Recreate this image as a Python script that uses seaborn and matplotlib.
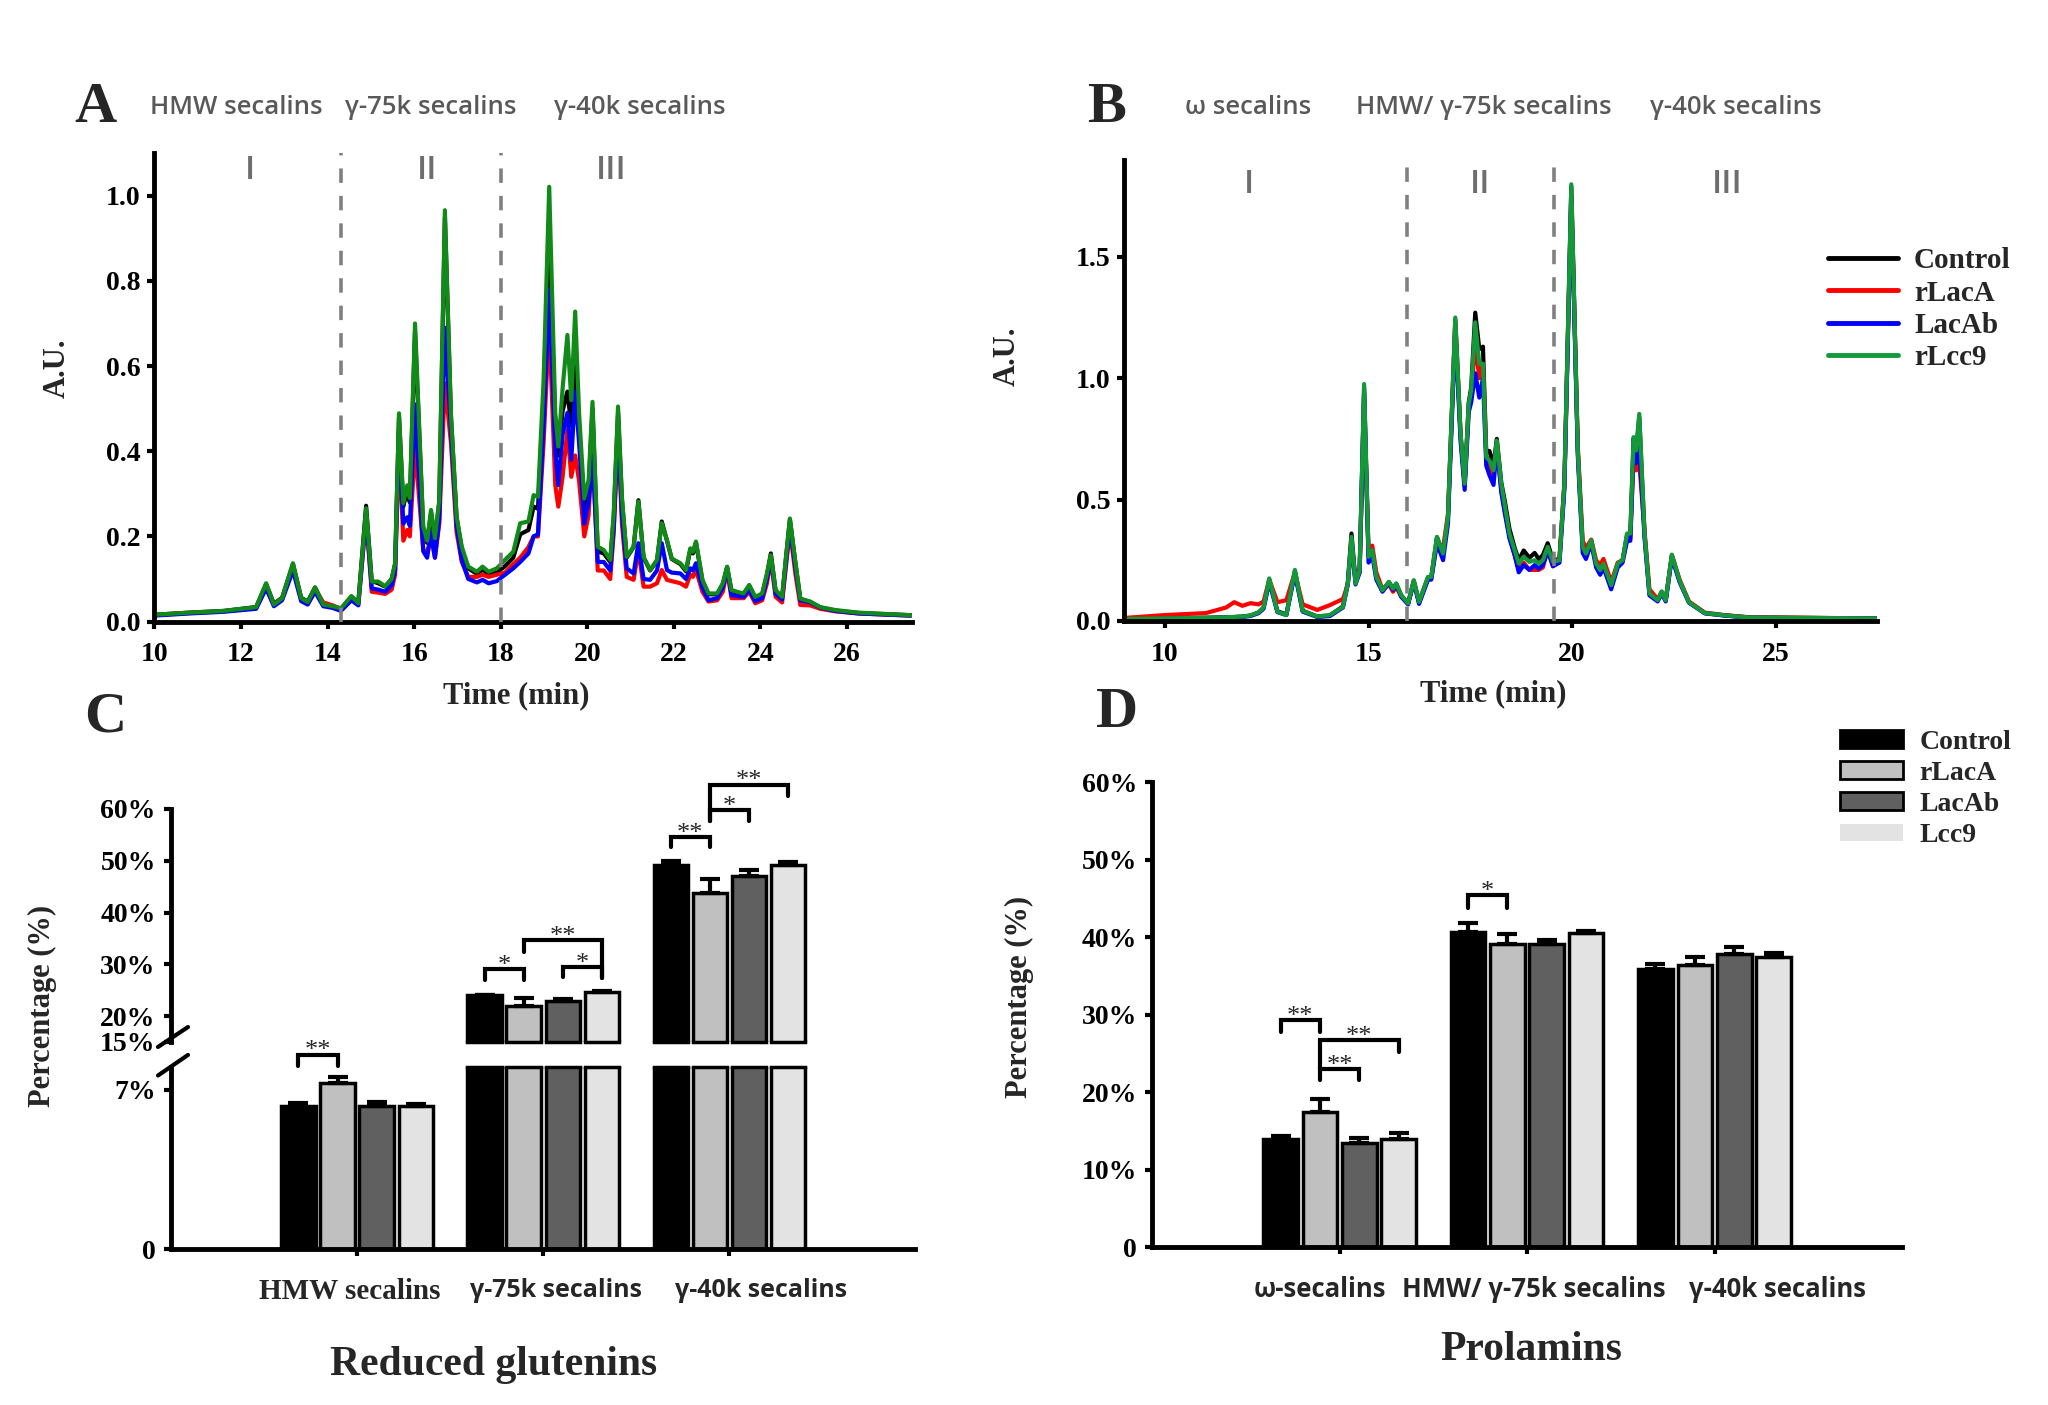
import numpy as np
import pandas as pd
import matplotlib
matplotlib.use("Agg")
import matplotlib.pyplot as plt
import seaborn as sns
from matplotlib.lines import Line2D
from matplotlib.patches import Patch
from matplotlib.container import BarContainer
from matplotlib.ticker import FormatStrFormatter

# ---------------- data ----------------
SAMPLES_LINE = ["Control", "rLacA", "LacAb", "rLcc9"]

A_TIME = [10.0, 10.8, 11.6, 12.35, 12.58, 12.76, 12.95, 13.2, 13.39, 13.54,
          13.71, 13.9, 14.12, 14.31, 14.55, 14.71, 14.89, 15.02, 15.17, 15.33,
          15.48, 15.56, 15.65, 15.75, 15.84, 15.9, 16.02, 16.21, 16.3, 16.39,
          16.48, 16.58, 16.71, 16.85, 16.98, 17.1, 17.25, 17.45, 17.58, 17.72,
          17.91, 18.1, 18.29, 18.45, 18.64, 18.76, 18.86, 18.99, 19.12, 19.26,
          19.33, 19.43, 19.54, 19.63, 19.72, 19.81, 19.93, 20.03, 20.12, 20.24,
          20.38, 20.53, 20.61, 20.71, 20.8, 20.91, 21.07, 21.18, 21.3, 21.45,
          21.61, 21.72, 21.84, 21.95, 22.15, 22.28, 22.38, 22.44, 22.51, 22.66,
          22.8, 23.0, 23.13, 23.23, 23.33, 23.46, 23.61, 23.74, 23.88, 24.04,
          24.15, 24.24, 24.35, 24.5, 24.59, 24.68, 24.81, 24.92, 25.15, 25.38,
          25.73, 26.27, 27.47]
A_CONTROL = [0.016, 0.021, 0.025, 0.034, 0.088, 0.042, 0.056, 0.135, 0.056, 0.047,
             0.080, 0.042, 0.036, 0.030, 0.058, 0.045, 0.272, 0.095, 0.090, 0.082,
             0.100, 0.135, 0.480, 0.270, 0.310, 0.280, 0.680, 0.215, 0.185, 0.255,
             0.190, 0.280, 0.950, 0.480, 0.245, 0.170, 0.125, 0.112, 0.122, 0.112,
             0.115, 0.130, 0.150, 0.205, 0.215, 0.270, 0.265, 0.520, 0.900, 0.460,
             0.390, 0.495, 0.540, 0.460, 0.600, 0.460, 0.260, 0.310, 0.500, 0.165,
             0.160, 0.140, 0.245, 0.490, 0.285, 0.150, 0.175, 0.285, 0.150, 0.120,
             0.143, 0.235, 0.190, 0.147, 0.135, 0.118, 0.170, 0.160, 0.185, 0.095,
             0.064, 0.064, 0.088, 0.128, 0.072, 0.068, 0.064, 0.084, 0.056, 0.064,
             0.110, 0.160, 0.072, 0.056, 0.150, 0.240, 0.135, 0.053, 0.046, 0.033,
             0.026, 0.020, 0.015]
A_RLACA = [0.015, 0.020, 0.024, 0.032, 0.080, 0.040, 0.054, 0.125, 0.052, 0.045,
           0.075, 0.045, 0.038, 0.030, 0.052, 0.040, 0.245, 0.070, 0.068, 0.065,
           0.075, 0.110, 0.420, 0.190, 0.215, 0.200, 0.410, 0.170, 0.160, 0.200,
           0.150, 0.230, 0.560, 0.420, 0.210, 0.140, 0.105, 0.105, 0.110, 0.105,
           0.110, 0.115, 0.135, 0.150, 0.175, 0.200, 0.200, 0.420, 0.700, 0.320,
           0.270, 0.340, 0.450, 0.340, 0.390, 0.330, 0.200, 0.250, 0.420, 0.120,
           0.120, 0.100, 0.210, 0.440, 0.230, 0.105, 0.098, 0.168, 0.082, 0.082,
           0.090, 0.121, 0.098, 0.095, 0.090, 0.082, 0.110, 0.105, 0.121, 0.070,
           0.047, 0.050, 0.070, 0.121, 0.055, 0.055, 0.055, 0.070, 0.043, 0.050,
           0.090, 0.145, 0.058, 0.045, 0.130, 0.215, 0.110, 0.039, 0.038, 0.030,
           0.024, 0.019, 0.014]
A_LACAB = [0.014, 0.019, 0.023, 0.030, 0.078, 0.036, 0.050, 0.120, 0.048, 0.040,
           0.070, 0.036, 0.032, 0.025, 0.050, 0.038, 0.250, 0.078, 0.075, 0.070,
           0.085, 0.120, 0.450, 0.230, 0.245, 0.225, 0.510, 0.165, 0.150, 0.210,
           0.150, 0.240, 0.690, 0.450, 0.225, 0.145, 0.100, 0.092, 0.098, 0.090,
           0.095, 0.110, 0.125, 0.140, 0.160, 0.200, 0.205, 0.460, 0.780, 0.400,
           0.320, 0.440, 0.490, 0.380, 0.540, 0.420, 0.230, 0.280, 0.390, 0.140,
           0.140, 0.120, 0.220, 0.460, 0.250, 0.125, 0.113, 0.184, 0.100, 0.098,
           0.120, 0.184, 0.121, 0.115, 0.113, 0.100, 0.125, 0.120, 0.137, 0.080,
           0.050, 0.055, 0.080, 0.125, 0.062, 0.060, 0.058, 0.075, 0.048, 0.055,
           0.100, 0.150, 0.065, 0.052, 0.140, 0.225, 0.125, 0.050, 0.045, 0.033,
           0.025, 0.019, 0.014]
A_RLCC9 = [0.016, 0.021, 0.025, 0.034, 0.090, 0.040, 0.055, 0.137, 0.055, 0.046,
           0.080, 0.040, 0.036, 0.031, 0.060, 0.043, 0.266, 0.094, 0.094, 0.083,
           0.100, 0.137, 0.489, 0.278, 0.320, 0.290, 0.700, 0.223, 0.190, 0.262,
           0.196, 0.285, 0.966, 0.489, 0.246, 0.176, 0.129, 0.117, 0.129, 0.117,
           0.125, 0.145, 0.164, 0.231, 0.235, 0.297, 0.293, 0.567, 1.021, 0.489,
           0.411, 0.548, 0.673, 0.520, 0.728, 0.489, 0.289, 0.332, 0.516, 0.176,
           0.168, 0.145, 0.254, 0.505, 0.293, 0.152, 0.176, 0.282, 0.152, 0.121,
           0.145, 0.231, 0.191, 0.148, 0.137, 0.121, 0.172, 0.164, 0.188, 0.098,
           0.066, 0.066, 0.090, 0.129, 0.074, 0.070, 0.066, 0.086, 0.058, 0.066,
           0.113, 0.156, 0.074, 0.058, 0.152, 0.242, 0.137, 0.054, 0.047, 0.034,
           0.027, 0.021, 0.015]

B_TIME = [9.0, 10.0, 11.0, 11.5, 11.7, 11.9, 12.1, 12.3, 12.42, 12.56,
          12.76, 12.98, 13.19, 13.38, 13.74, 14.05, 14.37, 14.49, 14.58, 14.68,
          14.78, 14.89, 15.0, 15.09, 15.19, 15.34, 15.5, 15.6, 15.68, 15.8,
          15.97, 16.11, 16.24, 16.46, 16.54, 16.68, 16.83, 16.95, 17.13, 17.26,
          17.36, 17.46, 17.52, 17.62, 17.72, 17.81, 17.89, 17.97, 18.07, 18.15,
          18.26, 18.34, 18.46, 18.59, 18.69, 18.81, 18.95, 19.08, 19.18, 19.28,
          19.4, 19.53, 19.69, 19.81, 19.98, 20.14, 20.26, 20.34, 20.47, 20.59,
          20.69, 20.77, 20.96, 21.12, 21.24, 21.35, 21.43, 21.51, 21.57, 21.65,
          21.78, 21.9, 22.1, 22.2, 22.3, 22.45, 22.64, 22.87, 23.26, 23.73,
          24.35, 27.5]
B_CONTROL = [0.008, 0.010, 0.013, 0.015, 0.016, 0.018, 0.022, 0.035, 0.055, 0.170,
             0.040, 0.026, 0.205, 0.042, 0.018, 0.022, 0.060, 0.160, 0.360, 0.160,
             0.210, 0.960, 0.265, 0.290, 0.180, 0.125, 0.160, 0.132, 0.153, 0.105,
             0.072, 0.166, 0.078, 0.180, 0.180, 0.345, 0.275, 0.425, 1.240, 0.770,
             0.560, 0.900, 0.960, 1.270, 1.120, 1.130, 0.700, 0.700, 0.640, 0.750,
             0.570, 0.500, 0.380, 0.300, 0.250, 0.290, 0.260, 0.280, 0.255, 0.270,
             0.320, 0.250, 0.255, 0.560, 1.790, 0.700, 0.300, 0.270, 0.330, 0.235,
             0.205, 0.235, 0.145, 0.235, 0.250, 0.355, 0.355, 0.750, 0.690, 0.840,
             0.355, 0.112, 0.085, 0.120, 0.085, 0.270, 0.165, 0.077, 0.032, 0.023,
             0.014, 0.010]
B_RLACA = [0.012, 0.024, 0.032, 0.055, 0.077, 0.062, 0.073, 0.068, 0.080, 0.170,
           0.077, 0.085, 0.200, 0.068, 0.045, 0.065, 0.090, 0.150, 0.330, 0.160,
           0.200, 0.900, 0.270, 0.310, 0.200, 0.130, 0.150, 0.120, 0.140, 0.100,
           0.070, 0.160, 0.075, 0.175, 0.175, 0.330, 0.300, 0.440, 1.230, 0.760,
           0.560, 0.880, 0.920, 1.150, 1.000, 1.060, 0.680, 0.640, 0.600, 0.730,
           0.540, 0.460, 0.350, 0.270, 0.210, 0.240, 0.210, 0.210, 0.210, 0.220,
           0.290, 0.225, 0.260, 0.570, 1.760, 0.720, 0.330, 0.300, 0.335, 0.250,
           0.230, 0.255, 0.160, 0.240, 0.250, 0.340, 0.340, 0.680, 0.620, 0.650,
           0.370, 0.130, 0.090, 0.118, 0.090, 0.270, 0.170, 0.080, 0.034, 0.024,
           0.015, 0.010]
B_LACAB = [0.006, 0.008, 0.011, 0.013, 0.014, 0.016, 0.020, 0.032, 0.050, 0.160,
           0.036, 0.024, 0.195, 0.038, 0.016, 0.020, 0.055, 0.150, 0.330, 0.150,
           0.200, 0.940, 0.240, 0.270, 0.170, 0.120, 0.155, 0.128, 0.150, 0.100,
           0.068, 0.160, 0.070, 0.170, 0.170, 0.320, 0.250, 0.400, 1.200, 0.740,
           0.540, 0.860, 0.900, 1.020, 0.920, 1.000, 0.640, 0.600, 0.560, 0.720,
           0.530, 0.450, 0.340, 0.270, 0.200, 0.230, 0.210, 0.230, 0.215, 0.230,
           0.290, 0.225, 0.240, 0.540, 1.750, 0.680, 0.280, 0.255, 0.320, 0.220,
           0.190, 0.220, 0.130, 0.220, 0.240, 0.330, 0.330, 0.700, 0.650, 0.720,
           0.340, 0.105, 0.080, 0.112, 0.080, 0.260, 0.160, 0.075, 0.031, 0.022,
           0.013, 0.009]
B_RLCC9 = [0.008, 0.010, 0.013, 0.015, 0.016, 0.018, 0.022, 0.035, 0.055, 0.175,
           0.038, 0.024, 0.210, 0.041, 0.018, 0.024, 0.058, 0.154, 0.346, 0.154,
           0.209, 0.976, 0.264, 0.291, 0.181, 0.126, 0.161, 0.133, 0.154, 0.106,
           0.072, 0.167, 0.078, 0.181, 0.181, 0.346, 0.277, 0.428, 1.250, 0.771,
           0.565, 0.894, 0.949, 1.230, 1.059, 1.059, 0.675, 0.661, 0.620, 0.743,
           0.565, 0.483, 0.360, 0.291, 0.236, 0.264, 0.243, 0.250, 0.236, 0.250,
           0.305, 0.243, 0.250, 0.565, 1.799, 0.702, 0.305, 0.277, 0.332, 0.236,
           0.209, 0.236, 0.147, 0.236, 0.250, 0.360, 0.360, 0.757, 0.702, 0.853,
           0.360, 0.113, 0.085, 0.121, 0.085, 0.273, 0.166, 0.077, 0.032, 0.023,
           0.014, 0.010]

A_REGION_BOUNDS = [14.3, 18.0]
B_REGION_BOUNDS = [15.95, 19.55]
A_HEADERS = ["HMW secalins", "γ-75k secalins", "γ-40k secalins"]
B_HEADERS = ["ω secalins", "HMW/ γ-75k secalins", "γ-40k secalins"]
NUMERALS = ["I", "II", "III"]

TREATMENTS = ["Control", "rLacA", "LacAb", "Lcc9"]
C_GROUPS = ["HMW secalins", "γ-75k secalins", "γ-40k secalins"]
C_CONTROL = [6.3, 24.0, 49.2]
C_RLACA = [7.3, 21.9, 43.7]
C_LACAB = [6.3, 23.0, 47.1]
C_LCC9 = [6.3, 24.7, 49.2]
C_CONTROL_ERR = [0.10, 0.15, 0.8]
C_RLACA_ERR = [0.26, 1.6, 2.8]
C_LACAB_ERR = [0.18, 0.25, 1.1]
C_LCC9_ERR = [0.06, 0.15, 0.5]

D_GROUPS = ["ω-secalins", "HMW/ γ-75k secalins", "γ-40k secalins"]
D_CONTROL = [13.9, 40.7, 35.9]
D_RLACA = [17.4, 39.1, 36.4]
D_LACAB = [13.4, 39.1, 37.8]
D_LCC9 = [14.0, 40.5, 37.5]
D_CONTROL_ERR = [0.4, 1.1, 0.6]
D_RLACA_ERR = [1.7, 1.3, 1.0]
D_LACAB_ERR = [0.7, 0.5, 1.0]
D_LCC9_ERR = [0.7, 0.3, 0.4]

# ---------------- style ----------------
sns.set_theme(style="ticks")
plt.rcParams["font.family"] = ["Liberation Serif", "DejaVu Serif"]
plt.rcParams["font.weight"] = "bold"
plt.rcParams["axes.labelweight"] = "bold"
plt.rcParams["axes.linewidth"] = 3.5
SERIF = ["Liberation Serif", "DejaVu Serif"]
SANS = ["Open Sans", "DejaVu Sans"]
GRAY_TXT = "#595959"
LINE_PAL_A = {"Control": "#000000", "rLacA": "#ff0000", "LacAb": "#0000ff", "rLcc9": "#118a1a"}
LINE_PAL_B = {"Control": "#000000", "rLacA": "#ff0000", "LacAb": "#0000ff", "rLcc9": "#13993a"}
BAR_PAL = {"Control": "#000000", "rLacA": "#c0c0c0", "LacAb": "#606060", "Lcc9": "#e3e3e3"}
# horizontal placement of the category labels (they sit off the tick marks in the figure)
C_LABEL_POS = [-0.04, 1.07, 2.17]
D_LABEL_POS = [-0.107, 1.034, 2.338]

fig = plt.figure(figsize=(20.48, 14.05), dpi=100)
fig.patch.set_facecolor("white")

axA = fig.add_axes([0.0754, 0.5576, 0.3699, 0.3334])
axB = fig.add_axes([0.549, 0.5581, 0.3677, 0.3282])
axCt = fig.add_axes([0.0835, 0.2584, 0.3635, 0.1658])
axCb = fig.add_axes([0.0835, 0.111, 0.3635, 0.1296])
axD = fig.add_axes([0.5626, 0.1124, 0.3661, 0.3308])


def style_axes(ax, left=True, bottom=True):
    ax.spines["top"].set_visible(False)
    ax.spines["right"].set_visible(False)
    ax.spines["left"].set_visible(left)
    ax.spines["bottom"].set_visible(bottom)
    for s in ["left", "bottom"]:
        ax.spines[s].set_linewidth(3.5)
        ax.spines[s].set_color("black")
    ax.set_facecolor("none")
    ax.grid(False)


def draw_chrom(ax, time, series, pal):
    frames = [pd.DataFrame({"Time": time, "AU": vals, "Sample": name})
              for name, vals in zip(SAMPLES_LINE, series)]
    df = pd.concat(frames, ignore_index=True)
    sns.lineplot(data=df, x="Time", y="AU", hue="Sample", hue_order=SAMPLES_LINE,
                 palette=pal, estimator=None, linewidth=3, legend=False, ax=ax)
    style_axes(ax)
    ax.tick_params(axis="both", direction="out", length=5, width=3, labelsize=20,
                   color="black", labelcolor="black")
    ax.tick_params(axis="x", pad=10)
    ax.tick_params(axis="y", pad=5)
    ax.yaxis.set_major_formatter(FormatStrFormatter("%.1f"))


# ---------------- Panel A ----------------
draw_chrom(axA, A_TIME, [A_CONTROL, A_RLACA, A_LACAB, A_RLCC9], LINE_PAL_A)
axA.set_xlim(10, 27.5)
axA.set_ylim(0, 1.10)
axA.set_xticks(np.arange(10, 27, 2))
axA.set_yticks(np.arange(0, 1.01, 0.2))
for xb in A_REGION_BOUNDS:
    axA.axvline(xb, color="#808080", lw=2.6, ls=(0, (4, 3.6)), zorder=5)
for xn, s in zip([12.2, 16.3, 20.55], NUMERALS):
    axA.text(xn, 1.06, s, ha="center", va="center", fontsize=24, color="#6e6e6e",
             family=SANS, fontweight="semibold")

# ---------------- Panel B ----------------
draw_chrom(axB, B_TIME, [B_CONTROL, B_RLACA, B_LACAB, B_RLCC9], LINE_PAL_B)
axB.set_xlim(9, 27.5)
axB.set_ylim(0, 1.9)
axB.set_xticks([10, 15, 20, 25])
axB.set_yticks([0, 0.5, 1.0, 1.5])
for xb in B_REGION_BOUNDS:
    axB.axvline(xb, color="#808080", lw=2.6, ls=(0, (4, 3.6)), zorder=5)
for xn, s in zip([12.05, 17.75, 23.8], NUMERALS):
    axB.text(xn, 1.80, s, ha="center", va="center", fontsize=24, color="#6e6e6e",
             family=SANS, fontweight="semibold")

for ax, xl, yl in [(axA, (0.2522, 0.505), (0.0278, 0.738)),
                   (axB, (0.7293, 0.506), (0.4917, 0.7466))]:
    ax.set_xlabel("Time (min)", fontsize=22, fontweight="bold")
    ax.set_ylabel("A.U.", fontsize=22, fontweight="bold")
    ax.xaxis.set_label_coords(*xl, transform=fig.transFigure)
    ax.yaxis.set_label_coords(*yl, transform=fig.transFigure)
    ax.xaxis.label.set_va("center")
    ax.yaxis.label.set_va("center")

line_handles = [Line2D([], [], color=LINE_PAL_B[s], lw=3.5) for s in SAMPLES_LINE]
fig.legend(line_handles, SAMPLES_LINE, loc="upper left", bbox_to_anchor=(0.8926, 0.824),
           frameon=False, handlelength=2.4, handletextpad=0.55,
           labelspacing=0.18, borderpad=0, borderaxespad=0,
           prop={"family": SERIF, "weight": "bold", "size": 21})

# headers and panel letters
fig.text(0.0467, 0.9233, "A", fontsize=42, fontweight="bold", ha="center", va="center")
fig.text(0.5405, 0.9233, "B", fontsize=42, fontweight="bold", ha="center", va="center")
for xc, s in zip([0.1152, 0.2102, 0.3125], A_HEADERS):
    fig.text(xc, 0.9233, s, fontsize=18.5, color=GRAY_TXT, family=SANS,
             fontweight="semibold", ha="center", va="center")
for xc, s in zip([0.6094, 0.7244, 0.8475], B_HEADERS):
    fig.text(xc, 0.9233, s, fontsize=18.5, color=GRAY_TXT, family=SANS,
             fontweight="semibold", ha="center", va="center")
fig.text(0.0513, 0.489, "C", fontsize=42, fontweight="bold", ha="center", va="center")
fig.text(0.5454, 0.4922, "D", fontsize=42, fontweight="bold", ha="center", va="center")


# ---------------- bar panels ----------------
def draw_bars(ax, groups, means, errs):
    df = pd.DataFrame({"Group": np.tile(groups, len(TREATMENTS)),
                       "Treatment": np.repeat(TREATMENTS, len(groups)),
                       "Percentage": np.concatenate(means)})
    sns.barplot(data=df, x="Group", y="Percentage", hue="Treatment", order=groups,
                hue_order=TREATMENTS, palette=BAR_PAL, errorbar=None, width=0.84,
                gap=0.12, saturation=1, edgecolor="black", linewidth=2.5,
                legend=False, ax=ax, zorder=2)
    conts = [c for c in ax.containers if isinstance(c, BarContainer)]
    for h, cont in enumerate(conts):
        patches = sorted(cont.patches, key=lambda p: p.get_x())
        xs = [p.get_x() + p.get_width() / 2 for p in patches]
        ys = [p.get_height() for p in patches]
        ax.errorbar(xs, ys, yerr=[np.zeros(len(xs)), errs[h]], fmt="none",
                    ecolor="black", elinewidth=3, capsize=7, capthick=3, zorder=3)
    ax.set_xlabel("")
    ax.set_ylabel("")
    ax.set_xlim(-1, 3)
    return conts


def category_axis(ax, groups, label_pos, fonts):
    ax.set_xticks(range(len(groups)), minor=True)
    ax.set_xticks(label_pos, groups)
    ax.tick_params(axis="x", which="major", length=0, pad=21)
    ax.tick_params(axis="x", which="minor", direction="out", length=5, width=3,
                   color="black")
    for lbl, (fam, size) in zip(ax.get_xticklabels(), fonts):
        lbl.set_fontfamily(fam)
        lbl.set_fontsize(size)
        lbl.set_fontweight("bold")


def bar_x(conts, h, i):
    patches = sorted(conts[h].patches, key=lambda p: p.get_x())
    p = patches[i]
    return p.get_x() + p.get_width() / 2


def bracket(ax, xa, xb, y, ya, yb, stars):
    ax.plot([xa, xa, xb, xb], [ya, y, y, yb], color="black", lw=3, clip_on=False,
            solid_joinstyle="miter", zorder=6)
    ax.annotate(stars, xy=((xa + xb) / 2, y), xytext=(0, -2), textcoords="offset points",
                ha="center", va="baseline", fontsize=19, fontweight="normal",
                annotation_clip=False)


C_MEANS = [C_CONTROL, C_RLACA, C_LACAB, C_LCC9]
C_ERRS = [C_CONTROL_ERR, C_RLACA_ERR, C_LACAB_ERR, C_LCC9_ERR]
conts_t = draw_bars(axCt, C_GROUPS, C_MEANS, C_ERRS)
conts_b = draw_bars(axCb, C_GROUPS, C_MEANS, C_ERRS)
axCt.set_ylim(15, 60)
axCb.set_ylim(0, 8)
style_axes(axCt, left=True, bottom=False)
style_axes(axCb, left=True, bottom=True)
axCt.tick_params(axis="x", which="both", bottom=False, labelbottom=False)
axCt.set_yticks([15, 20, 30, 40, 50, 60])
axCt.set_yticklabels(["15%", "20%", "30%", "40%", "50%", "60%"])
axCb.set_yticks([0, 7])
axCb.set_yticklabels(["0", "7%"])
for ax in (axCt, axCb):
    ax.tick_params(axis="y", direction="out", length=5, width=3, labelsize=20, pad=6,
                   color="black", labelcolor="black")
category_axis(axCb, C_GROUPS, C_LABEL_POS, [(SERIF, 21), (SANS, 18), (SANS, 18)])
# close the bars at the break
for ax, lim, conts in [(axCt, 15, conts_t), (axCb, 8, conts_b)]:
    for cont in conts:
        for p in cont.patches:
            if p.get_height() > lim:
                ax.plot([p.get_x(), p.get_x() + p.get_width()], [lim, lim], color="black",
                        lw=2.5, clip_on=False, zorder=4, solid_capstyle="projecting")
# break marks on the y axis
axCt.plot([-0.0175, 0.0228], [-0.0215, 0.064], transform=axCt.transAxes, color="black",
          lw=3, clip_on=False)
axCb.plot([-0.0175, 0.0228], [0.953, 1.066], transform=axCb.transAxes, color="black",
          lw=3, clip_on=False)

# significance brackets panel C
bracket(axCb, bar_x(conts_b, 0, 0), bar_x(conts_b, 1, 0), 8.54, 8.04, 8.04, "**")
bracket(axCt, bar_x(conts_t, 0, 1), bar_x(conts_t, 1, 1), 29.1, 27.0, 27.0, "*")
bracket(axCt, bar_x(conts_t, 2, 1), bar_x(conts_t, 3, 1), 29.4, 27.6, 27.4, "*")
bracket(axCt, bar_x(conts_t, 1, 1), bar_x(conts_t, 3, 1), 34.6, 32.4, 27.4, "**")
bracket(axCt, bar_x(conts_t, 0, 2), bar_x(conts_t, 1, 2), 54.6, 52.6, 52.6, "**")
bracket(axCt, bar_x(conts_t, 1, 2), bar_x(conts_t, 2, 2), 59.75, 57.6, 57.6, "*")
bracket(axCt, bar_x(conts_t, 1, 2), bar_x(conts_t, 3, 2), 64.7, 57.6, 62.5, "**")

axCb.set_ylabel("Percentage (%)", fontsize=22, fontweight="bold")
axCb.yaxis.set_label_coords(0.0205, 0.284, transform=fig.transFigure)
axCb.yaxis.label.set_va("center")
fig.text(0.2412, 0.0285, "Reduced glutenins", fontsize=30, fontweight="bold",
         ha="center", va="center")

# ---------------- Panel D ----------------
D_MEANS = [D_CONTROL, D_RLACA, D_LACAB, D_LCC9]
D_ERRS = [D_CONTROL_ERR, D_RLACA_ERR, D_LACAB_ERR, D_LCC9_ERR]
conts_d = draw_bars(axD, D_GROUPS, D_MEANS, D_ERRS)
axD.set_ylim(0, 60)
style_axes(axD)
axD.set_yticks(np.arange(0, 61, 10))
axD.set_yticklabels(["0"] + [f"{v}%" for v in range(10, 61, 10)])
axD.tick_params(axis="y", direction="out", length=5, width=3, labelsize=20, pad=6,
                color="black", labelcolor="black")
category_axis(axD, D_GROUPS, D_LABEL_POS, [(SANS, 18.5), (SANS, 18.5), (SANS, 18.5)])

bracket(axD, bar_x(conts_d, 0, 0), bar_x(conts_d, 1, 0), 29.3, 27.8, 27.8, "**")
bracket(axD, bar_x(conts_d, 1, 0), bar_x(conts_d, 3, 0), 26.7, 23.0, 25.2, "**")
bracket(axD, bar_x(conts_d, 1, 0), bar_x(conts_d, 2, 0), 23.0, 21.6, 21.6, "**")
bracket(axD, bar_x(conts_d, 0, 1), bar_x(conts_d, 1, 1), 45.4, 43.8, 43.8, "*")

axD.set_ylabel("Percentage (%)", fontsize=22, fontweight="bold")
axD.yaxis.set_label_coords(0.498, 0.2906, transform=fig.transFigure)
axD.yaxis.label.set_va("center")
fig.text(0.7476, 0.0394, "Prolamins", fontsize=30, fontweight="bold",
         ha="center", va="center")

bar_handles = [Patch(facecolor=BAR_PAL[t], edgecolor=("none" if t == "Lcc9" else "black"),
                     linewidth=2) for t in TREATMENTS]
fig.legend(bar_handles, TREATMENTS, loc="upper left", bbox_to_anchor=(0.8984, 0.4805),
           frameon=False, handlelength=2.27, handleheight=0.61, handletextpad=0.6,
           labelspacing=0.22, borderpad=0, borderaxespad=0,
           prop={"family": SERIF, "weight": "bold", "size": 20})

fig.savefig("out.png", dpi=100, facecolor="white")
